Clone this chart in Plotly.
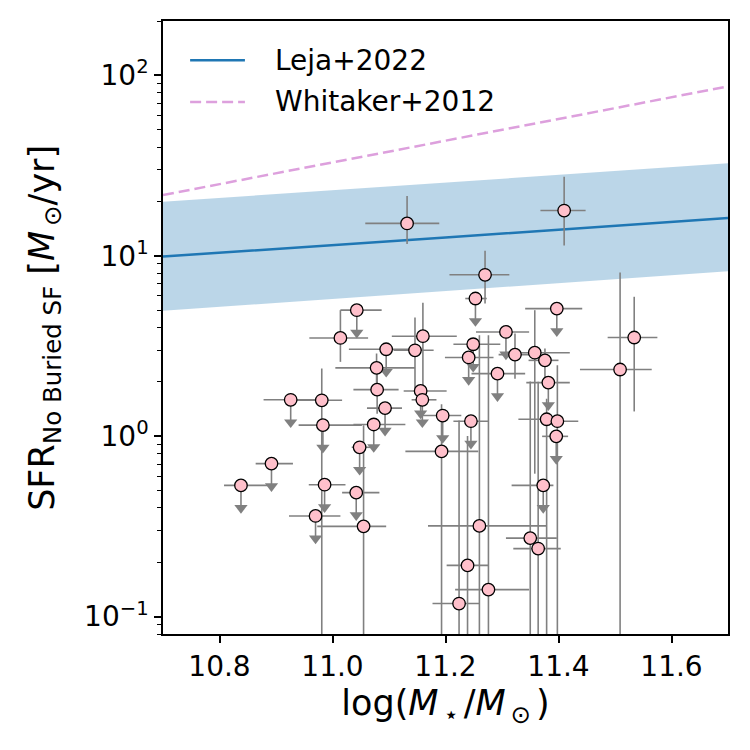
import numpy as np
import plotly.graph_objects as go

# ---------------- data ----------------
# Detections: stellar mass (log), its lower/upper bounds, SFR and its lower/upper bounds
det_x    = [11.132, 11.410, 11.270, 11.014, 11.534, 11.509, 11.160, 11.146, 11.078, 11.079,
            11.193, 11.260, 11.239, 11.276, 11.224, 10.981, 11.055, 11.323, 11.358, 11.376,
            11.379, 11.398, 11.350, 11.364]
det_x_lo = [11.058, 11.368, 11.207, 10.959, 11.487, 11.438, 11.105, 11.108, 11.005, 11.037,
            11.129, 11.169, 11.202, 11.217, 11.177, 10.931, 10.973, 11.294, 11.334, 11.347,
            11.329, 11.373, 11.307, 11.320]
det_x_hi = [11.189, 11.448, 11.313, 11.063, 11.575, 11.565, 11.220, 11.179, 11.146, 11.117,
            11.258, 11.379, 11.276, 11.348, 11.261, 11.017, 11.095, 11.358, 11.420, 11.400,
            11.400, 11.435, 11.397, 11.404]
det_y    = [15.1, 17.8, 7.84, 3.50, 3.52, 2.34, 3.58, 2.99, 2.39, 1.81,
            0.823, 0.318, 0.192, 0.141, 0.118, 1.58, 0.316, 2.83, 2.90, 2.63,
            1.24, 1.21, 0.272, 0.238]
det_y_lo = [11.6, 11.4, 5.43, 2.58, 1.37, 0.01, 1.85, 1.83, 1.83, 1.33,
            0.01, 0.01, 0.01, 0.01, 0.01, 0.01, 0.01, 2.08, 0.619, 2.01,
            0.01, 0.01, 0.01, 0.01]
det_y_hi = [21.4, 27.4, 10.65, 4.99, 5.92, 8.07, 5.48, 4.54, 2.87, 2.37,
            1.50, 3.62, 1.00, 3.62, 1.22, 2.37, 1.15, 3.70, 4.99, 3.06,
            1.61, 2.47, 2.01, 2.00]

# Upper limits
ul_x    = [11.253, 11.397, 11.043, 11.095, 11.093, 11.073, 11.156, 11.159, 11.195, 11.245,
           10.926, 10.983, 10.892, 10.838, 10.986, 10.970, 11.042, 11.048, 11.307, 11.249,
           11.241, 11.382, 11.292, 11.396, 11.373]
ul_x_lo = [11.235, 11.341, 11.014, 11.029, 11.061, 11.037, 11.126, 11.140, 11.152, 11.214,
           10.878, 10.940, 10.864, 10.808, 10.958, 10.923, 11.017, 11.034, 11.254, 11.214,
           11.199, 11.343, 11.246, 11.371, 11.317]
ul_x_hi = [11.273, 11.442, 11.087, 11.135, 11.123, 11.129, 11.202, 11.184, 11.228, 11.276,
           10.970, 11.052, 10.930, 10.890, 11.023, 11.014, 11.083, 11.069, 11.348, 11.297,
           11.285, 11.420, 11.341, 11.417, 11.391]
ul_y    = [5.79, 5.09, 4.99, 3.03, 1.43, 1.16, 1.78, 1.59, 1.30, 1.21,
           1.59, 1.15, 0.704, 0.533, 0.538, 0.361, 0.486, 0.867, 3.78, 3.23,
           2.73, 1.98, 2.22, 0.997, 0.533]

# Main-sequence relations
leja_x  = [10.7, 11.2, 11.7]
leja_y  = [9.9, 12.6, 16.2]
leja_lo = [4.95, 6.40, 8.20]
leja_hi = [19.9, 25.4, 32.5]
whit_x  = [10.7, 11.2, 11.7]
whit_y  = [21.7, 43.4, 86.8]

legend_labels = ["Leja+2022", "Whitaker+2012"]

x_ticks = [10.8, 11.0, 11.2, 11.4, 11.6]
y_ticks = [0.1, 1, 10, 100]
y_ticktext = ["10<sup>\u22121</sup>", "10<sup>0</sup>", "10<sup>1</sup>", "10<sup>2</sup>"]

ARROW_DEX = 0.125
# ---------------------------------------

dx = np.array(det_x); dy = np.array(det_y)
ux = np.array(ul_x); uy = np.array(ul_y)

FONT = "DejaVu Sans"
GRAY = "#808080"
LEJA_COLOR = "#1f77b4"
WHIT_COLOR = "plum"
WHIT_DASH = "11px,5px"
fig = go.Figure()

# band
fig.add_trace(go.Scatter(x=leja_x, y=leja_lo, mode="lines", line=dict(width=0),
                         showlegend=False, hoverinfo="skip"))
fig.add_trace(go.Scatter(x=leja_x, y=leja_hi, mode="lines", line=dict(width=0),
                         fill="tonexty", fillcolor="rgba(31,119,180,0.3)",
                         showlegend=False, hoverinfo="skip"))
fig.add_trace(go.Scatter(x=leja_x, y=leja_y, mode="lines", name=legend_labels[0],
                         showlegend=False, line=dict(color=LEJA_COLOR, width=2.5)))
fig.add_trace(go.Scatter(x=whit_x, y=whit_y, mode="lines", name=legend_labels[1],
                         showlegend=False,
                         line=dict(color=WHIT_COLOR, width=2.5, dash=WHIT_DASH)))

# error bars for detections
fig.add_trace(go.Scatter(
    x=dx, y=dy, mode="markers", marker=dict(size=1, color="rgba(0,0,0,0)"),
    showlegend=False, hoverinfo="skip",
    error_x=dict(type="data", symmetric=False, array=np.array(det_x_hi) - dx,
                 arrayminus=dx - np.array(det_x_lo), color=GRAY, thickness=1.6, width=0),
    error_y=dict(type="data", symmetric=False, array=np.array(det_y_hi) - dy,
                 arrayminus=dy - np.array(det_y_lo), color=GRAY, thickness=1.6, width=0)))

# error bars for upper limits
uy_tip = uy * 10 ** (-ARROW_DEX)
fig.add_trace(go.Scatter(
    x=ux, y=uy, mode="markers", marker=dict(size=1, color="rgba(0,0,0,0)"),
    showlegend=False, hoverinfo="skip",
    error_x=dict(type="data", symmetric=False, array=np.array(ul_x_hi) - ux,
                 arrayminus=ux - np.array(ul_x_lo), color=GRAY, thickness=1.6, width=0),
    error_y=dict(type="data", symmetric=False, array=np.zeros_like(uy),
                 arrayminus=uy - uy_tip, color=GRAY, thickness=1.6, width=0)))
fig.add_trace(go.Scatter(x=ux, y=uy_tip, mode="markers",
                         marker=dict(symbol="triangle-down", size=11.5, color=GRAY,
                                     line=dict(width=0)),
                         showlegend=False, hoverinfo="skip"))

# points
fig.add_trace(go.Scatter(x=np.concatenate([dx, ux]), y=np.concatenate([dy, uy]),
                         mode="markers", showlegend=False,
                         marker=dict(size=12.5, color="pink",
                                     line=dict(color="black", width=1.3))))

# legend drawn in axis-domain coordinates (matplotlib style)
shapes = []
annotations = []
leg_rows = [(legend_labels[0], LEJA_COLOR, "solid", 0.936),
            (legend_labels[1], WHIT_COLOR, WHIT_DASH, 0.868)]
for label, col, dash, yy in leg_rows:
    shapes.append(dict(type="line", xref="x domain", yref="y domain",
                       x0=0.048, x1=0.145, y0=yy, y1=yy,
                       line=dict(color=col, width=2.5, dash=dash)))
    annotations.append(dict(text=label, xref="x domain", yref="y domain",
                            x=0.195, y=yy, xanchor="left", yanchor="middle",
                            showarrow=False,
                            font=dict(family=FONT, size=28, color="black")))

# y-axis title as a rotated annotation
annotations.append(dict(
    text="SFR<sub>No Buried SF</sub> [<i>M</i><sub>\u2009\u2299</sub>/yr]",
    xref="paper", yref="paper", x=-0.21, y=0.50, xanchor="center", yanchor="middle",
    textangle=-90, showarrow=False, font=dict(family=FONT, size=35, color="black")))

axis_common = dict(showline=True, linecolor="black", linewidth=1.5, mirror=True,
                   ticks="outside", ticklen=7, tickwidth=1.5, tickcolor="black",
                   showgrid=False, zeroline=False,
                   tickfont=dict(family=FONT, size=28, color="black"))

minor_vals = [m * 10.0 ** e for e in range(-2, 3) for m in range(2, 10)]

fig.update_layout(
    width=750, height=750,
    margin=dict(l=163, r=22, t=21, b=116),
    paper_bgcolor="white", plot_bgcolor="white",
    font=dict(family=FONT, color="black"),
    showlegend=False,
    shapes=shapes, annotations=annotations,
    xaxis=dict(range=[10.7, 11.7], tickvals=x_ticks,
               ticktext=[f"{v:.1f}" for v in x_ticks],
               title=dict(text="log(<i>M</i><sub>\u2009\u22c6\u2009</sub>/<i>M</i><sub>\u2009\u2299\u2009</sub>)",
                          font=dict(family=FONT, size=35), standoff=6),
               **axis_common),
    yaxis=dict(type="log", range=[np.log10(0.08), np.log10(200)],
               tickvals=y_ticks, ticktext=y_ticktext,
               minor=dict(tickvals=minor_vals, ticks="outside", ticklen=4,
                          tickwidth=1.2, tickcolor="black", showgrid=False),
               **axis_common),
)

fig.write_html("out.html")
